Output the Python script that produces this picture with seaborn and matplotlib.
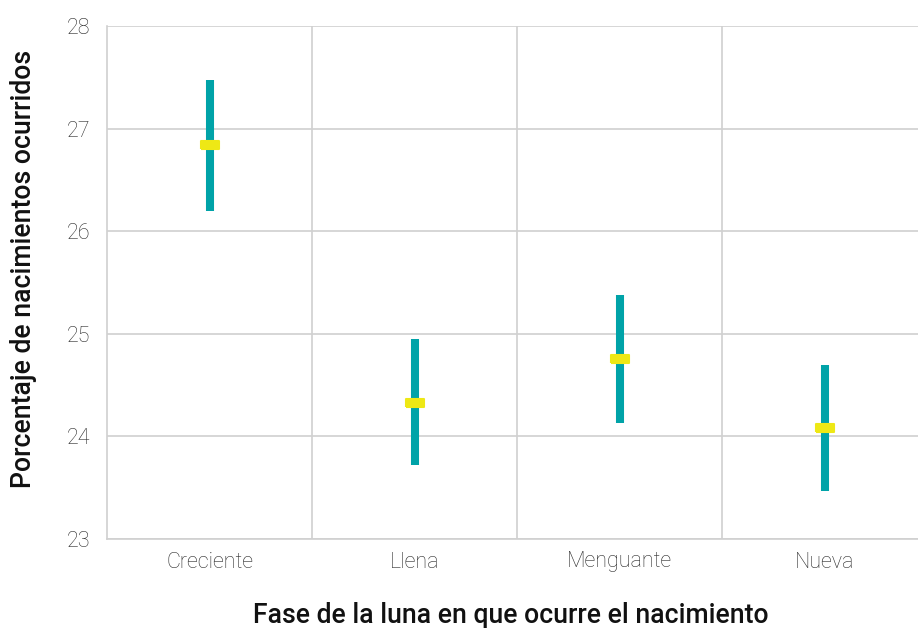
import matplotlib
matplotlib.use('Agg')
import matplotlib.pyplot as plt
import seaborn as sns
import pandas as pd

# Data
fases = ['Creciente', 'Llena', 'Menguante', 'Nueva']
media = [26.84, 24.33, 24.75, 24.08]
inferior = [26.20, 23.72, 24.13, 23.47]
superior = [27.47, 24.95, 25.38, 24.70]

teal = '#00A3A8'
yellow = '#EEE815'
grid_col = '#D0D0D0'

sns.set_theme(style='white')
plt.rcParams['font.family'] = ['Roboto', 'DejaVu Sans']

# long table: interval ends, so pi 100 gives the min-max whisker
df_int = pd.DataFrame({
    'fase': fases * 2,
    'valor': inferior + superior,
})
df_media = pd.DataFrame({'fase': fases, 'media': media})

fig = plt.figure(figsize=(9.18, 6.28), dpi=100)
ax = fig.add_axes([107 / 918, 89 / 628, 820 / 918, 513 / 628])

sns.pointplot(data=df_int, x='fase', y='valor', order=fases,
              errorbar=('pi', 100), linestyle='none', marker='',
              color=teal, err_kws={'linewidth': 5.8, 'solid_capstyle': 'butt'},
              ax=ax, zorder=3)

rect = [(-1, -0.4), (1, -0.4), (1, 0.4), (-1, 0.4), (-1, -0.4)]
sns.scatterplot(data=df_media, x='fase', y='media', marker=rect, s=160,
                color=yellow, edgecolor=yellow, linewidth=1.5, ax=ax, zorder=4)
for coll in ax.collections:
    coll.set_joinstyle('round')

ax.set_ylim(23, 28)
ax.set_xlim(-0.5, 3.5)
ax.set_yticks([23, 24, 25, 26, 27, 28])
ax.set_xticks(range(len(fases)))
ax.set_xticklabels(fases)
ax.set_xticks([0.5, 1.5, 2.5], minor=True)

ax.grid(axis='y', which='major', color=grid_col, linewidth=1.2, zorder=0)
ax.grid(axis='x', which='minor', color=grid_col, linewidth=1.2, zorder=0)
ax.grid(axis='x', which='major', visible=False)
ax.set_axisbelow(True)

for side in ['top', 'right']:
    ax.spines[side].set_visible(False)
for side in ['left', 'bottom']:
    ax.spines[side].set_color(grid_col)
    ax.spines[side].set_linewidth(1.2)

ax.tick_params(axis='y', length=0, pad=12, labelsize=15.5, labelcolor='#2A2A2A')
ax.tick_params(axis='x', which='both', length=0, pad=9, labelsize=15.5, labelcolor='#2A2A2A')
for lab in ax.get_xticklabels() + ax.get_yticklabels():
    lab.set_fontweight('light')

ax.set_xlabel('Fase de la luna en que ocurre el nacimiento', fontsize=19.2,
              fontweight='medium', color='#111111')
ax.set_ylabel('Porcentaje de nacimientos ocurridos', fontsize=19.2,
              fontweight='medium', color='#111111')
ax.xaxis.set_label_coords(0.493, -0.123)
ax.yaxis.set_label_coords(-0.085, 0.527)

fig.savefig('out.png', dpi=100)
